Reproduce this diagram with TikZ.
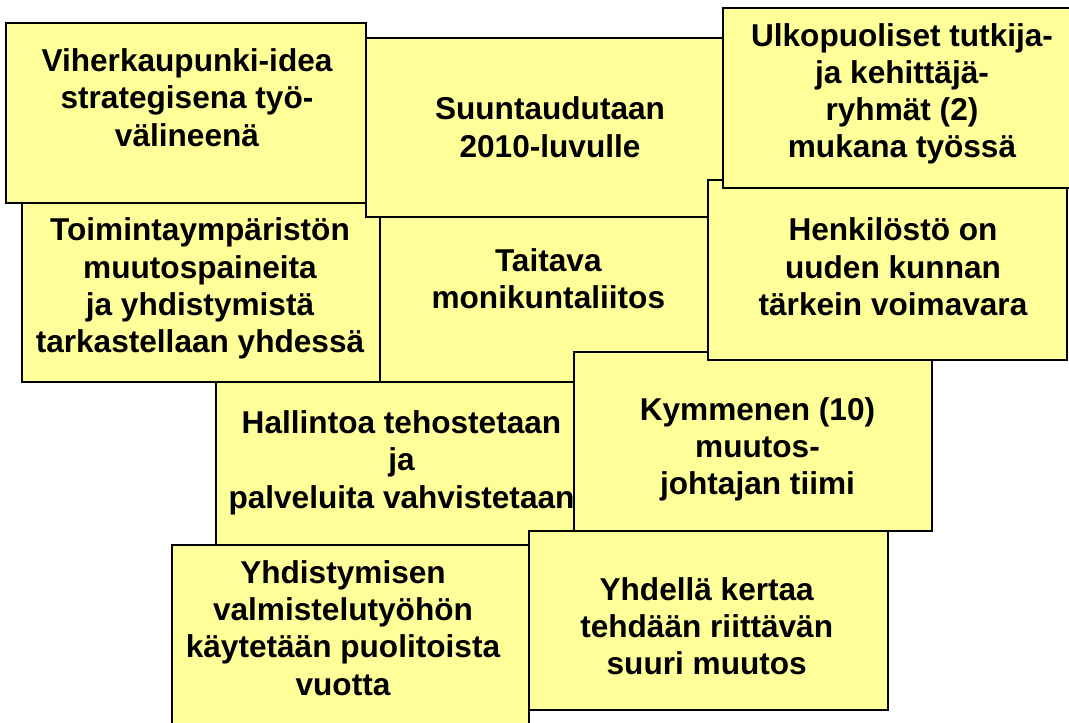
\documentclass[tikz,border=0pt]{standalone}
\usepackage{fontspec}
\setmainfont{Liberation Sans}
\definecolor{noteyellow}{HTML}{FFFF99}

\begin{document}
\begin{tikzpicture}[x=0.5pt, y=-0.5pt,
  note/.style={draw=black, line width=1pt, fill=noteyellow},
  notetext/.style={align=center, inner sep=0pt, font=\bfseries\fontsize{15.8}{18.6}\selectfont}]
  % Page frame (one unit = one pixel, y downwards)
  \useasboundingbox (0,0) rectangle (1069,722);
  \clip (0,0) rectangle (1069,722);

  % Toimintaympäristö
  \draw[note] (21.7,200) rectangle (380,382);
  \node[notetext] (toiminta) at (200,288.5) {Toimintaympäristön\\muutospaineita\\ja yhdistymistä\\tarkastellaan yhdessä};

  % Monikuntaliitos
  \draw[note] (380,210) rectangle (708,382);
  \node[notetext] (taitava) at (548.3,279) {Taitava\\monikuntaliitos};

  % Hallinto
  \draw[note] (216,382) rectangle (580,545);
  \node[notetext] (hallinto) at (401.5,462.7) {Hallintoa tehostetaan\\ja\\palveluita vahvistetaan};

  % Muutosjohtajat
  \draw[note] (574,352) rectangle (932,531);
  \node[notetext] (kymmenen) at (757.5,449.3) {Kymmenen (10)\\muutos-\\johtajan tiimi};

  % Viherkaupunki
  \draw[note] (6,23) rectangle (365.5,203);
  \node[notetext] (viher) at (187,97.7) {Viherkaupunki-idea\\strategisena työ-\\välineenä};

  % 2010-luku
  \draw[note] (365.5,38) rectangle (738,217);
  \node[notetext] (suunta) at (550,127.2) {Suuntaudutaan\\2010-luvulle};

  % Henkilöstö
  \draw[note] (708,180) rectangle (1067,360);
  \node[notetext] (henkilosto) at (893,266.9) {Henkilöstö on\\uuden kunnan\\tärkein voimavara};

  % Ulkopuoliset ryhmät
  \draw[note] (723,8) rectangle (1080,188);
  \node[notetext] (ulko) at (902,93.8) {Ulkopuoliset tutkija-\\ja kehittäjä-\\ryhmät (2)\\mukana työssä};

  % Valmistelu
  \draw[note] (172,545) rectangle (529,730);
  \node[notetext] (yhdist) at (343,628) {Yhdistymisen\\valmistelutyöhön\\käytetään puolitoista\\vuotta};

  % Muutos kerralla
  \draw[note] (529,531) rectangle (888,710);
  \node[notetext] (kerta) at (706.7,626) {Yhdellä kertaa\\tehdään riittävän\\suuri muutos};
\end{tikzpicture}
\end{document}
